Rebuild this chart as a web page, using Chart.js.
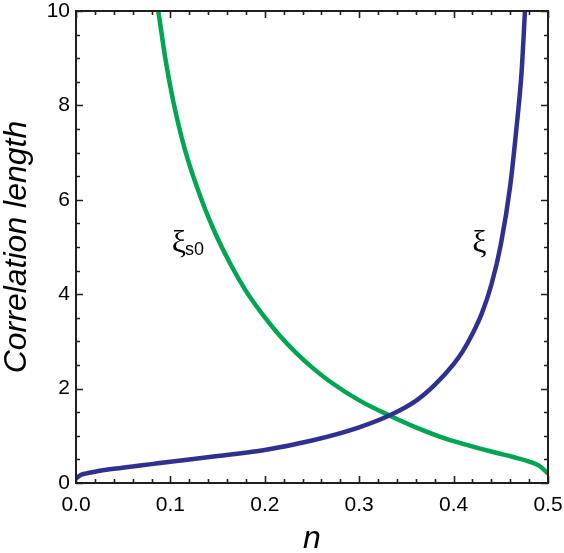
<!DOCTYPE html>
<html>
<head>
<meta charset="utf-8">
<script src="https://cdn.jsdelivr.net/npm/chart.js@4.4.1/dist/chart.umd.min.js"></script>
<style>
  html, body { margin: 0; padding: 0; background: #ffffff; }
  #wrap { width: 564px; height: 553px; position: relative; }
</style>
</head>
<body>
<div id="wrap"><canvas id="c" width="564" height="553"></canvas></div>
<script>
// ---- data ----
const xiN = [0, 0.005, 0.01, 0.02, 0.04, 0.06, 0.08, 0.1, 0.15, 0.2, 0.25, 0.3, 0.333, 0.36, 0.38, 0.4, 0.41, 0.42, 0.43, 0.44, 0.45, 0.46, 0.467, 0.472, 0.4756];
const xiV = [0.1, 0.17, 0.2, 0.24, 0.3, 0.35, 0.4, 0.45, 0.57, 0.70, 0.9, 1.18, 1.44, 1.74, 2.08, 2.52, 2.8, 3.16, 3.6, 4.2, 5.05, 6.3, 7.6, 8.7, 10];
const xis0N = [0.0872, 0.095, 0.103, 0.115, 0.133, 0.148, 0.163, 0.18, 0.198, 0.215, 0.234, 0.25, 0.269, 0.3, 0.333, 0.36, 0.393, 0.41, 0.428, 0.445, 0.463, 0.48, 0.4915, 0.5];
const xis0V = [10, 8.95, 8.09, 7.09, 6.0, 5.27, 4.66, 4.07, 3.56, 3.14, 2.74, 2.45, 2.15, 1.75, 1.42, 1.18, 0.93, 0.83, 0.73, 0.64, 0.55, 0.455, 0.355, 0.2];
const xTicks = [0, 0.1, 0.2, 0.3, 0.4, 0.5];
const yTicks = [0, 2, 4, 6, 8, 10];
const xLabel = 'n';
const yLabel = 'Correlation length';
const curveLabels = [
  { main: 'ξ', sub: '', n: 0.4197, v: 5.08 },
  { main: 'ξ', sub: 's0', n: 0.1014, v: 5.08 }
];

const toPts = (xs, ys) => xs.map((x, i) => ({ x: x, y: ys[i] }));

const AXIS_COLOR = '#231f20';

const framePlugin = {
  id: 'frame',
  afterDatasetsDraw(chart) {
    const ctx = chart.ctx;
    const a = chart.chartArea;
    const xs = chart.scales.x, ys = chart.scales.y;
    ctx.save();
    ctx.strokeStyle = AXIS_COLOR;
    ctx.lineWidth = 2;
    ctx.strokeRect(a.left, a.top, a.right - a.left, a.bottom - a.top);
    ctx.lineWidth = 1.6;
    ctx.beginPath();
    for (let k = 0; k <= 25; k++) {
      const v = k * 0.02;
      const px = Math.round(xs.getPixelForValue(v)) + 0.5;
      const len = (k % 5 === 0) ? 7 : 4;
      ctx.moveTo(px, a.bottom); ctx.lineTo(px, a.bottom - len);
      ctx.moveTo(px, a.top); ctx.lineTo(px, a.top + len);
    }
    for (let k = 0; k <= 20; k++) {
      const v = k * 0.5;
      const py = Math.round(ys.getPixelForValue(v)) + 0.5;
      const len = (k % 4 === 0) ? 7 : 4;
      ctx.moveTo(a.left, py); ctx.lineTo(a.left + len, py);
      ctx.moveTo(a.right, py); ctx.lineTo(a.right - len, py);
    }
    ctx.stroke();
    ctx.restore();
  },
  afterDraw(chart) {
    const ctx = chart.ctx;
    const a = chart.chartArea;
    const xs = chart.scales.x, ys = chart.scales.y;
    ctx.save();
    ctx.fillStyle = '#000';
    ctx.font = 'italic 32px "Liberation Sans", Arial, sans-serif';
    ctx.textAlign = 'center';
    ctx.textBaseline = 'alphabetic';
    ctx.fillText(xLabel, (a.left + a.right) / 2, 548);
    ctx.save();
    ctx.translate(26, (a.top + a.bottom) / 2);
    ctx.rotate(-Math.PI / 2);
    ctx.fillText(yLabel, 0, 0);
    ctx.restore();
    curveLabels.forEach(l => {
      const px = xs.getPixelForValue(l.n);
      const py = ys.getPixelForValue(l.v);
      ctx.textAlign = 'left';
      ctx.textBaseline = 'middle';
      ctx.font = '32px "Liberation Serif", "DejaVu Serif", serif';
      ctx.fillText(l.main, px, py);
      const w = ctx.measureText(l.main).width;
      if (l.sub) {
        ctx.font = '18px "Liberation Sans", Arial, sans-serif';
        ctx.textBaseline = 'alphabetic';
        ctx.fillText(l.sub, px + w - 1, py + 12);
      }
    });
    ctx.restore();
  }
};

new Chart(document.getElementById('c'), {
  type: 'scatter',
  data: {
    datasets: [
      {
        label: 'ξ',
        data: toPts(xiN, xiV),
        showLine: true,
        borderColor: '#2e3192',
        backgroundColor: '#2e3192',
        borderWidth: 4.5,
        pointRadius: 0,
        cubicInterpolationMode: 'monotone',
        borderCapStyle: 'butt'
      },
      {
        label: 'ξs0',
        data: toPts(xis0N, xis0V),
        showLine: true,
        borderColor: '#00a651',
        backgroundColor: '#00a651',
        borderWidth: 4.5,
        pointRadius: 0,
        cubicInterpolationMode: 'monotone',
        borderCapStyle: 'butt'
      }
    ]
  },
  options: {
    responsive: false,
    animation: false,
    devicePixelRatio: 1,
    layout: { padding: { left: 0, top: 11, right: 16, bottom: 0 } },
    plugins: { legend: { display: false }, tooltip: { enabled: false } },
    scales: {
      x: {
        type: 'linear',
        min: 0, max: 0.5,
        afterFit(s) { s.height = 70; s.paddingLeft = 0; s.paddingRight = 0; },
        afterBuildTicks(s) { s.ticks = xTicks.map(v => ({ value: v })); },
        border: { display: false },
        grid: { display: false, drawTicks: false },
        ticks: {
          color: '#000',
          font: { family: '"Liberation Sans", Arial, sans-serif', size: 21 },
          padding: 10,
          maxRotation: 0,
          callback: v => Number(v).toFixed(1)
        }
      },
      y: {
        type: 'linear',
        min: 0, max: 10,
        afterFit(s) { s.width = 76; s.paddingTop = 0; s.paddingBottom = 0; },
        afterBuildTicks(s) { s.ticks = yTicks.map(v => ({ value: v })); },
        border: { display: false },
        grid: { display: false, drawTicks: false },
        ticks: {
          color: '#000',
          font: { family: '"Liberation Sans", Arial, sans-serif', size: 21 },
          padding: 6,
          callback: v => String(v)
        }
      }
    }
  },
  plugins: [framePlugin]
});
</script>
</body>
</html>
